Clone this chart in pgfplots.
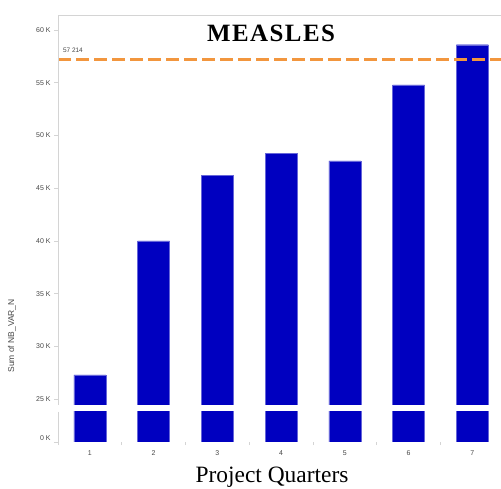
\documentclass[border=0pt]{standalone}
\usepackage{pgfplots}
\pgfplotsset{compat=1.18}
\usepackage{fontspec}
\setmainfont{Liberation Serif}
\newfontfamily\arial{Liberation Sans}
\definecolor{barblue}{RGB}{0,0,192}
\definecolor{dashor}{RGB}{242,150,62}
\definecolor{axgray}{RGB}{212,212,212}
\definecolor{lblgray}{RGB}{70,70,70}

\pgfplotstableread{
x y
1 27.3
2 40.0
3 46.2
4 48.3
5 47.6
6 54.8
7 58.6
}\measles

\begin{document}
\begin{tikzpicture}
\path[use as bounding box] (0bp,0bp) rectangle (501bp,489bp);
% upper panel
\begin{axis}[
  at={(58bp,84bp)}, anchor=south west,
  width=443bp, height=390bp, scale only axis,
  xmin=0.5, xmax=7.45, ymin=24.45, ymax=61.42,
  axis line style={draw=none},
  xtick=\empty,
  ytick={25,30,...,60},
  yticklabels={25 K,30 K,35 K,40 K,45 K,50 K,55 K,60 K},
  ytick pos=left, tick align=outside,
  major tick length=4bp,
  tick style={axgray, line width=0.6bp},
  yticklabel style={font=\arial\fontsize{7}{8}\selectfont, text=lblgray},
  clip=true,
]
\addplot[ybar, bar width=32bp, fill=barblue, draw=barblue!60!white, line width=0.3bp] table[x=x,y=y] {\measles};
\addplot[dashor, line width=3bp, dash pattern=on 13bp off 5bp, forget plot] coordinates {(0.5,57.214) (7.45,57.214)};
\draw[axgray, line width=0.8bp] (rel axis cs:0,0) -- (rel axis cs:0,1) -- (rel axis cs:1,1);
\node[anchor=south west, font=\arial\fontsize{6.5}{7}\selectfont, text=lblgray, inner sep=1bp] at (axis cs:0.56,57.75) {57 214};
\end{axis}
% lower panel
\begin{axis}[
  at={(58bp,47bp)}, anchor=south west,
  width=443bp, height=30bp, scale only axis,
  xmin=0.5, xmax=7.45, ymin=0, ymax=3,
  axis line style={draw=none},
  xtick={1,...,7},
  xticklabels={1,2,3,4,5,6,7},
  minor xtick={0.5,1.5,...,6.5},
  ytick={0}, yticklabels={0 K},
  ytick pos=left, xtick pos=bottom, tick align=outside,
  major tick length=4bp, minor tick length=3bp,
  major x tick style={draw=none},
  tick style={axgray, line width=0.6bp},
  yticklabel style={font=\arial\fontsize{7}{8}\selectfont, text=lblgray, yshift=4bp},
  xticklabel style={font=\arial\fontsize{7}{8}\selectfont, text=lblgray, yshift=-1bp},
  clip=true,
]
\addplot[ybar, bar width=32bp, fill=barblue, draw=barblue!60!white, line width=0.3bp] table[x=x,y=y] {\measles};
\draw[axgray, line width=0.8bp] (rel axis cs:0,1) -- (rel axis cs:0,0) -- (rel axis cs:1,0);
\end{axis}
\node[rotate=90, font=\arial\fontsize{8.5}{9}\selectfont, text=lblgray] at (12bp,153bp) {Sum of NB\_VAR\_N};
\node[font=\fontsize{25}{28}\selectfont\bfseries\addfontfeatures{LetterSpace=6}] at (271bp,456bp) {MEASLES};
\node[font=\fontsize{23.5}{26}\selectfont] at (272bp,12bp) {Project Quarters};
\end{tikzpicture}
\end{document}
